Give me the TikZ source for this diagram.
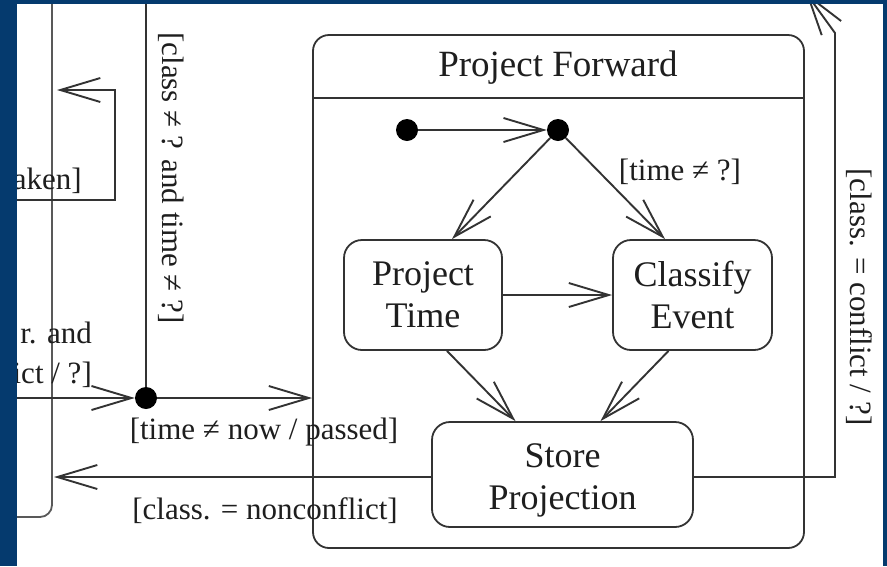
\documentclass[tikz,border=0pt]{standalone}
\usepackage{fontspec}
\setmainfont{Liberation Serif}
\usetikzlibrary{arrows.meta}
\definecolor{navy}{HTML}{053A6E}
\definecolor{ln}{HTML}{333333}
\definecolor{txt}{HTML}{1E1E1E}
\begin{document}
\begin{tikzpicture}[x=1pt,y=-1pt,
  conn/.style={draw=ln,line width=1.9pt},
  arr/.style={conn,-{Straight Barb[length=40pt,width=24pt,line width=1.9pt]}},
  statebox/.style={draw=ln,line width=1.8pt,rounded corners=18pt,align=center,text=txt,font=\fontsize{36}{42}\selectfont,inner sep=0pt},
  statetext/.style={align=center,text=txt,font=\fontsize{36}{42}\selectfont,inner sep=0pt},
  dot/.style={circle,fill=black,minimum size=22pt,inner sep=0pt},
  lbl/.style={font=\fontsize{31}{37}\selectfont,inner sep=0pt,text=txt}]
\useasboundingbox (0,0) rectangle (887,566);
\clip (0,0) rectangle (887,566);
\fill[white] (0,0) rectangle (887,566);

% left (cut) state
\draw[draw=gray!70!black,line width=1.8pt,rounded corners=12pt] (52,-10) -- (52,517) -- (-10,517);

% self loop on the left state
\coordinate (la) at (-5,200);
\coordinate (lb) at (115,200);
\coordinate (lc) at (115,90);
\coordinate (ld) at (57,90);
\draw[arr] (la) -- (lb) -- (lc) -- (ld);
\node[lbl,anchor=east] (lk) at (82,181) {aken]};

% Project Forward container
\node[draw=ln,line width=1.8pt,rounded corners=16pt,minimum width=491pt,minimum height=513pt,inner sep=0pt] (pf) at (558.5,291.5) {};
\coordinate (hdr) at (0,98);
\draw[conn] (pf.west |- hdr) -- (pf.east |- hdr);
\node[font=\fontsize{37}{44}\selectfont,text=txt] (pft) at (558,68) {Project Forward};

% junction on the left
\node[dot] (j1) at (146,398) {};
\coordinate (vtop) at (146,-5);
\coordinate (hleft) at (-5,398);
\draw[conn] (vtop) -- (j1);
\draw[arr] (hleft) -- (j1);
\draw[arr] (j1) -- (j1 -| pf.west);
\node[lbl,rotate=-90] (lv) at (171,178) {[class ≠ ? and time ≠ ?]};
\node[lbl,anchor=east] (lr1) at (92,333) {r. and};
\node[lbl,anchor=east] (lr2) at (92,375) {ict / ?]};
\node[lbl] (lp) at (264,432) {[time ≠ now / passed]};

% inside Project Forward
\node[dot] (ini) at (407,130) {};
\node[dot] (fk) at (558,130) {};
\draw[arr] (ini) -- (fk);
\node[statebox,minimum width=158pt,minimum height=110pt] (pt) at (423,295) {Project\\Time};
\node[statebox,minimum width=159pt,minimum height=110pt] (ce) at (692.5,295) {Classify\\Event};
\node[statebox,minimum width=261pt,minimum height=105pt] (sp) at (562.5,474.5) {};
\node[statetext] (spt) at (562.5,480) {Store\\Projection};
\draw[arr] (fk) -- ([xshift=29pt]pt.north);
\draw[arr] (fk) -- ([xshift=-27.5pt]ce.north);
\node[lbl] (lt) at (680,172) {[time ≠ ?]};
\draw[arr] (pt) -- (ce);
\draw[arr] ([xshift=24pt]pt.south) -- ([xshift=-47pt]sp.north);
\draw[arr] ([xshift=-24pt]ce.south) -- ([xshift=38pt]sp.north);

% outgoing transitions of Store Projection
\coordinate (lsE) at (54,477);
\draw[arr] (sp.west |- lsE) -- (lsE);
\node[lbl] (ln) at (265,511) {[class. = nonconflict]};
\coordinate (c1) at (835,477);
\coordinate (c2) at (835,33);
\coordinate (tr) at (806,-7);
\draw[arr] (sp.east |- c1) -- (c1) -- (c2) -- (tr);
\node[lbl,rotate=-90] (lc2) at (859,297) {[class. = conflict / ?]};

% dark frame
\fill[navy] (0,0) rectangle (17,566);
\fill[navy] (0,0) rectangle (887,4);
\fill[navy] (883,0) rectangle (887,566);
\end{tikzpicture}
\end{document}
